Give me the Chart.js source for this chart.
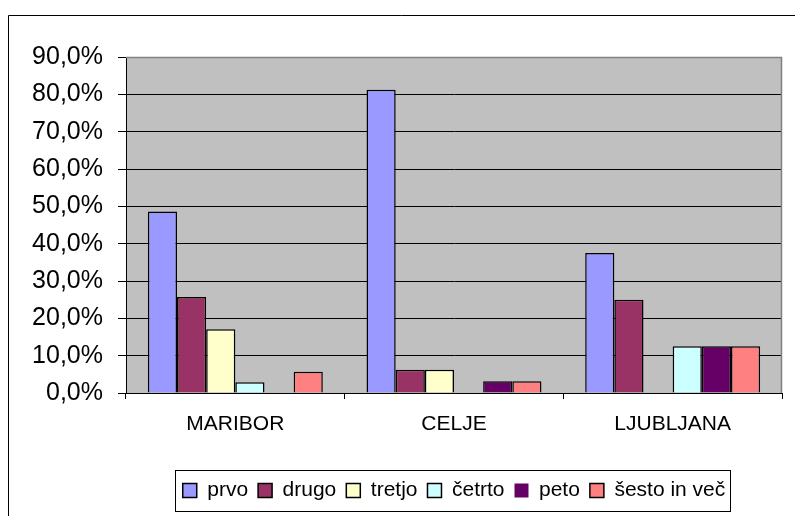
<!DOCTYPE html>
<html><head><meta charset="utf-8">
<script src="https://cdn.jsdelivr.net/npm/chart.js@4/dist/chart.umd.min.js"></script>
<style>html,body{margin:0;padding:0;background:#fff}#wrap{width:795px;height:516px}</style>
</head><body><div id="wrap"><canvas id="c" width="795" height="516"></canvas></div>
<script>
const categories = ['MARIBOR', 'CELJE', 'LJUBLJANA'];
const seriesNames = ['prvo', 'drugo', 'tretjo', 'četrto', 'peto', 'šesto in več'];
const prvo   = [48.6, 81.25, 37.5];
const drugo  = [25.7, 6.25, 25.0];
const tretjo = [17.1, 6.25, 0];
const cetrto = [2.9, 0, 12.5];
const peto   = [0, 3.125, 12.5];
const sesto  = [5.7, 3.125, 12.5];
const yMin = 0, yMax = 90, yStep = 10;

const seriesValues = [prvo, drugo, tretjo, cetrto, peto, sesto];
const seriesColors = ['#9999FF', '#993366', '#FFFFCC', '#CCFFFF', '#660066', '#FF8080'];

const FONT = "'Liberation Sans', Arial, sans-serif";

const framePlugin = {
  id: 'frame',
  beforeDraw(chart) {
    const {ctx, chartArea: a} = chart;
    ctx.save();
    ctx.fillStyle = '#fff';
    ctx.fillRect(0, 0, chart.width, chart.height);
    ctx.fillStyle = '#C0C0C0';
    ctx.fillRect(a.left, a.top, a.right - a.left, a.bottom - a.top);
    ctx.restore();
  },
  afterDraw(chart) {
    const {ctx, chartArea: a} = chart;
    ctx.save();
    // plot area border top/right (grey)
    ctx.strokeStyle = '#808080';
    ctx.lineWidth = 1.5;
    ctx.beginPath();
    ctx.moveTo(a.left, a.top + 0.5);
    ctx.lineTo(a.right - 0.5, a.top + 0.5);
    ctx.lineTo(a.right - 0.5, a.bottom);
    ctx.stroke();
    // outer frame
    ctx.strokeStyle = '#000';
    ctx.lineWidth = 1;
    ctx.beginPath();
    ctx.moveTo(8.5, chart.height);
    ctx.lineTo(8.5, 15.5);
    ctx.lineTo(chart.width, 15.5);
    ctx.stroke();
    // legend box
    const hb = chart.legend.legendHitBoxes;
    if (hb && hb.length) {
      let l = Infinity, r = -Infinity, t = Infinity, b = -Infinity;
      hb.forEach(h => {
        l = Math.min(l, h.left); r = Math.max(r, h.left + h.width);
        t = Math.min(t, h.top); b = Math.max(b, h.top + h.height);
      });
      ctx.strokeStyle = '#000';
      ctx.lineWidth = 1;
      ctx.strokeRect(Math.round(l - 8) + 0.5, Math.round(t - 10) + 0.5, Math.round(r - l + 12), Math.round(b - t + 20));
    }
    ctx.restore();
  }
};

new Chart(document.getElementById('c'), {
  type: 'bar',
  data: {
    labels: categories,
    datasets: seriesNames.map((name, i) => ({
      label: name,
      data: seriesValues[i],
      backgroundColor: seriesColors[i],
      borderColor: '#000',
      borderWidth: ctx => (ctx.raw === 0 ? 0 : 1.5),
      categoryPercentage: 0.8,
      barPercentage: 1.0
    }))
  },
  options: {
    responsive: false,
    animation: false,
    devicePixelRatio: 1,
    layout: {padding: {left: 0, top: 57, right: 13, bottom: 5}},
    plugins: {
      tooltip: {enabled: false},
      title: {display: false},
      legend: {
        position: 'bottom',
        fullSize: false,
        labels: {
          font: {family: FONT, size: 21},
          color: '#000',
          boxWidth: 14,
          boxHeight: 14,
          padding: 10
        }
      }
    },
    scales: {
      x: {
        grid: {drawOnChartArea: false, drawTicks: true, tickLength: 6, color: '#000', offset: true},
        border: {color: '#000', width: 1},
        ticks: {font: {family: FONT, size: 21}, color: '#000', padding: 13, maxRotation: 0},
        afterFit(scale) { scale.height = 77; }
      },
      y: {
        min: yMin, max: yMax,
        grid: {
          color: ctx => (ctx.tick && ctx.tick.value === yMax ? 'rgba(0,0,0,0)' : '#000'),
          tickColor: '#000',
          tickLength: 8,
          lineWidth: 1
        },
        border: {color: '#000', width: 1},
        ticks: {
          stepSize: yStep,
          font: {family: FONT, size: 25},
          color: '#000',
          padding: 15,
          callback: v => v.toFixed(1).replace('.', ',') + '%'
        },
        afterFit(scale) { scale.width = 126; }
      }
    }
  },
  plugins: [framePlugin]
});
</script>
</body></html>
